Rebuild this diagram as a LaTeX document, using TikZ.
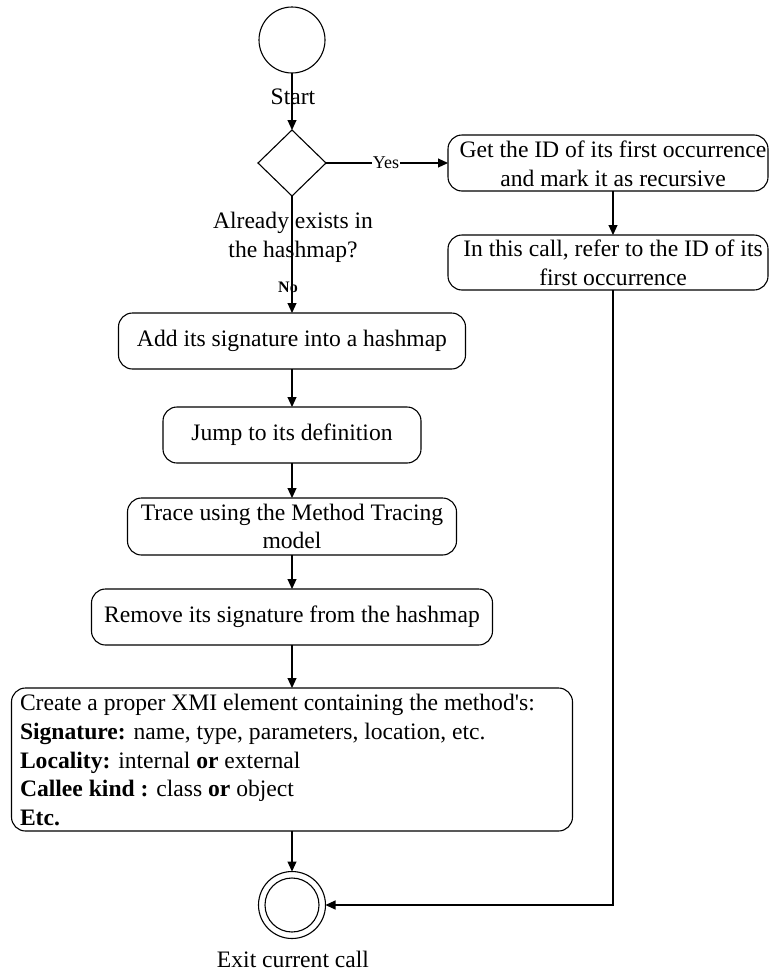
\documentclass[tikz,border=0pt]{standalone}
\usepackage{fontspec}
\setmainfont{Liberation Serif}[Ligatures=TeXOff]
\usetikzlibrary{shapes.geometric,arrows.meta}
\begin{document}
\begin{tikzpicture}[x=1pt,y=-1pt,
  every node/.style={font=\fontsize{23.6}{28.7}\selectfont, inner sep=0pt, outer sep=0pt},
  flow/.style={line width=1.1pt, -{Triangle[length=10pt,width=9pt]}},
  act/.style={draw, line width=1.1pt, rounded corners=14pt, align=center},
  endpoint/.style={draw, circle, line width=1.1pt, minimum size=#1},
  guard/.style={font=\fontsize{18}{21}\selectfont},
  nolabel/.style={font=\fontsize{16}{19}\selectfont\bfseries}
]
\useasboundingbox (0,0) rectangle (769,972);

% start and decision
\node[endpoint=66pt] (start) at (292,40) {};
\node[draw, diamond, line width=1.1pt, minimum width=68pt, minimum height=66pt] (dec) at (292,163) {};

% main column of activities
\node[act, minimum width=347pt, minimum height=56pt] (b1) at (292,341) {Add its signature into a hashmap};
\node[act, minimum width=258pt, minimum height=56pt] (b2) at (292,435) {Jump to its definition};
\node[act, minimum width=329pt, minimum height=57pt] (b3) at (292,526.5) {Trace using the Method Tracing\\model};
\node[act, minimum width=401pt, minimum height=56pt] (b4) at (292,617) {Remove its signature from the hashmap};
\node[act, minimum width=561pt, minimum height=143pt] (b5) at (292,759.5) {};
\node[anchor=west, align=left] (b5t) at (20,760) {Create a proper XMI element containing the method's:\\
\textbf{Signature:} name, type, parameters, location, etc.\\
\textbf{Locality:} internal \textbf{or} external\\
\textbf{Callee kind :} class \textbf{or} object\\
\textbf{Etc.}};

% recursive branch
\node[act, minimum width=320pt, minimum height=56pt] (g1) at (608,163) {};
\node[align=center] (g1t) at (613,164) {Get the ID of its first occurrence\\and mark it as recursive};
\node[act, minimum width=320pt, minimum height=55pt] (g2) at (608,262.5) {};
\node[align=center] (g2t) at (613,263) {In this call, refer to the ID of its\\first occurrence};

% final node
\node[endpoint=67pt] (exit) at (292,905) {};
\draw[line width=1.1pt] (exit.center) circle[radius=27pt];

% connectors
\draw[flow] (start) -- (dec);
\draw[flow] (dec.east) -- (g1.west);
\draw[flow] (dec) -- (b1);
\draw[flow] (b1) -- (b2);
\draw[flow] (b2) -- (b3);
\draw[flow] (b3) -- (b4);
\draw[flow] (b4) -- (b5);
\draw[flow] (b5) -- (exit);
\draw[flow] (g1.south -| g1t) -- (g2.north -| g1t);
\draw[flow] (g2.south -| g2t) |- (exit.east);

% labels
\node (startl) at (293,97) {Start};
\node[align=center] (decl) at (293,237) {Already exists in\\the hashmap?};
\node[nolabel] (nol) at (288,287) {No};
\node[guard, fill=white, inner xsep=1pt] (yesl) at (386,163) {Yes};
\node (exitl) at (293,959) {Exit current call};
\end{tikzpicture}
\end{document}
